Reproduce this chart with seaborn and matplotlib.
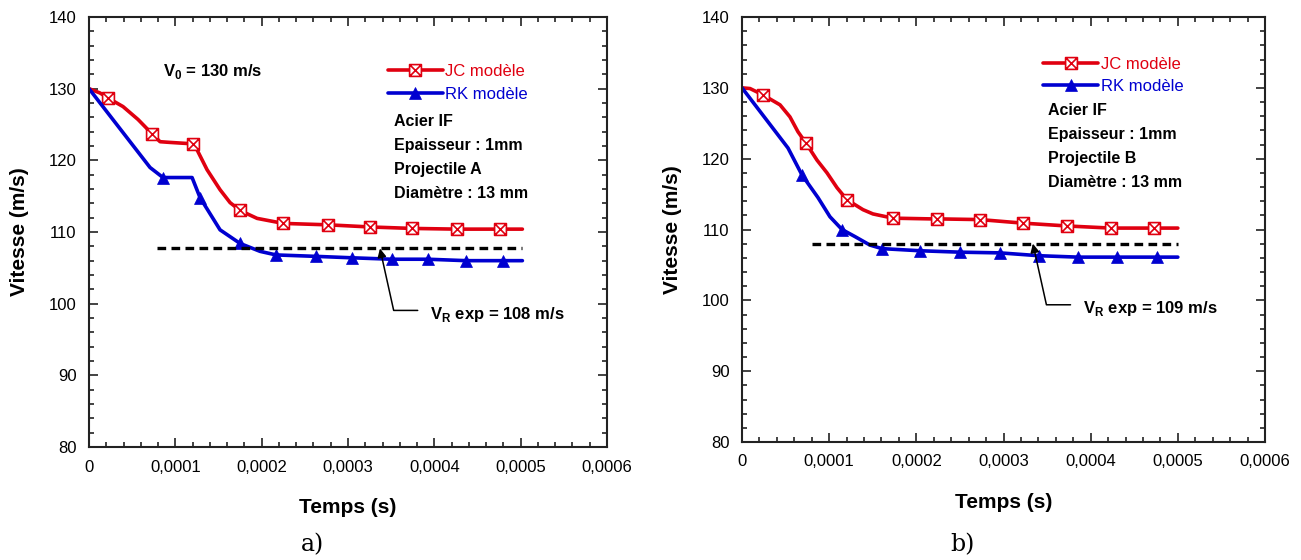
import matplotlib
matplotlib.use('Agg')
import seaborn as sns
from matplotlib import pyplot as plt
from matplotlib.lines import Line2D
from matplotlib.path import Path
from matplotlib.ticker import MultipleLocator, FuncFormatter

# ---- a) projectile A ----
jc_a_t = [0, 0.0000127, 0.000022, 0.0000394, 0.0000568, 0.000073, 0.0000823, 0.0000939,
          0.0001205, 0.000125, 0.0001367, 0.0001518, 0.0001634, 0.000175, 0.0001947,
          0.000225, 0.000277, 0.000326, 0.000374, 0.000426, 0.000476, 0.000502]
jc_a_v = [130, 129.4, 128.7, 127.5, 125.7, 123.7, 122.6, 122.5,
          122.3, 121.5, 118.7, 115.9, 114.1, 113.0, 111.9,
          111.2, 111.0, 110.7, 110.5, 110.4, 110.4, 110.4]
jc_a_marks = [2, 5, 8, 13, 15, 16, 17, 18, 19, 20]

rk_a_t = [0, 0.0000707, 0.0000857, 0.0001194, 0.0001286, 0.0001518, 0.000175, 0.0001981,
          0.0002167, 0.000263, 0.0003047, 0.000351, 0.0003928, 0.0004368, 0.0004797, 0.000502]
rk_a_v = [130, 119.0, 117.6, 117.6, 114.8, 110.3, 108.4, 107.3,
          106.8, 106.6, 106.4, 106.2, 106.2, 106.0, 106.0, 106.0]
rk_a_marks = [2, 4, 6, 8, 9, 10, 11, 12, 13, 14]

exp_a_t = [0.0000788, 0.000502]
exp_a_v = 107.7
exp_a_label = 108

# ---- b) projectile B ----
jc_b_t = [0, 0.0000092, 0.0000241, 0.0000436, 0.000055, 0.0000642, 0.0000734, 0.000086,
          0.0000975, 0.000109, 0.0001204, 0.0001388, 0.0001502, 0.0001732, 0.0002155,
          0.0002236, 0.000273, 0.0003222, 0.0003727, 0.0004232, 0.0004725, 0.0005]
jc_b_v = [130, 129.9, 129.0, 127.6, 125.9, 123.8, 122.2, 119.8,
          118.0, 115.9, 114.2, 112.8, 112.2, 111.6, 111.5,
          111.5, 111.4, 110.9, 110.5, 110.2, 110.2, 110.2]
jc_b_marks = [2, 6, 10, 13, 15, 16, 17, 18, 19, 20]

rk_b_t = [0, 0.0000528, 0.0000688, 0.0000872, 0.0001009, 0.0001147, 0.0001296, 0.0001468,
          0.0001606, 0.0002041, 0.00025, 0.0002959, 0.0003406, 0.0003853, 0.00043,
          0.0004759, 0.0005]
rk_b_v = [130, 121.5, 117.7, 114.5, 111.8, 110.0, 109.0, 107.8,
          107.3, 107.0, 106.8, 106.7, 106.3, 106.1, 106.1,
          106.1, 106.1]
rk_b_marks = [2, 5, 8, 9, 10, 11, 12, 13, 14, 15]

exp_b_t = [0.0000803, 0.0005]
exp_b_v = 108.0
exp_b_label = 109

sns.set_style('ticks')
plt.rcParams['font.family'] = ['Liberation Sans', 'DejaVu Sans']
plt.rcParams['mathtext.fontset'] = 'custom'
plt.rcParams['mathtext.rm'] = 'Liberation Sans'
plt.rcParams['mathtext.bf'] = 'Liberation Sans:bold'
for key in ['text.color', 'axes.labelcolor', 'xtick.labelcolor', 'ytick.labelcolor']:
    plt.rcParams[key] = 'black'

RED = '#e00010'
BLUE = '#0000d0'

# square with a cross inside
box_x = Path([(-1, -1), (1, -1), (1, 1), (-1, 1), (-1, -1), (-1, -1), (1, 1), (-1, 1), (1, -1)],
             [Path.MOVETO, Path.LINETO, Path.LINETO, Path.LINETO, Path.CLOSEPOLY,
              Path.MOVETO, Path.LINETO, Path.MOVETO, Path.LINETO])

jc_style = dict(color=RED, lw=2.6, marker=box_x, ms=8.5, mfc='white', mec=RED, mew=1.2)
rk_style = dict(color=BLUE, lw=2.6, marker='^', ms=8.5, mfc=BLUE, mec=BLUE, mew=0.5)


def comma_fmt(x, pos):
    if abs(x) < 1e-12:
        return '0'
    return ('%.4f' % x).replace('.', ',')


def panel(ax, jc_t, jc_v, jc_marks, rk_t, rk_v, rk_marks, exp_t, exp_v, exp_label,
          info, info_xy, leg_xy, note_xy, tip_t):
    sns.lineplot(x=jc_t, y=jc_v, ax=ax, sort=False, estimator=None, markevery=jc_marks, **jc_style)
    sns.lineplot(x=rk_t, y=rk_v, ax=ax, sort=False, estimator=None, markevery=rk_marks, **rk_style)
    ax.hlines(exp_v, exp_t[0], exp_t[1], color='black', lw=2.4, linestyles=(0, (2.6, 1.6)))

    ax.set_xlim(0, 0.0006)
    ax.set_ylim(80, 140)
    ax.xaxis.set_major_locator(MultipleLocator(0.0001))
    ax.xaxis.set_minor_locator(MultipleLocator(0.00002))
    ax.yaxis.set_major_locator(MultipleLocator(10))
    ax.yaxis.set_minor_locator(MultipleLocator(2))
    ax.xaxis.set_major_formatter(FuncFormatter(comma_fmt))
    ax.tick_params(which='both', direction='in', top=True, right=True, width=1.2,
                   color='#222222', labelsize=12)
    ax.tick_params(which='major', length=6.5)
    ax.tick_params(which='minor', length=3.5)
    ax.tick_params(axis='x', pad=9)
    ax.tick_params(axis='y', pad=9)
    for s in ax.spines.values():
        s.set_linewidth(1.5)
        s.set_color('#222222')

    ax.set_xlabel('Temps (s)', fontweight='bold', fontsize=15, labelpad=17)
    ax.set_ylabel('Vitesse (m/s)', fontweight='bold', fontsize=15, labelpad=14)

    handles = [Line2D([], [], **jc_style), Line2D([], [], **rk_style)]
    ax.legend(handles, ['JC modèle', 'RK modèle'], loc='upper left', bbox_to_anchor=leg_xy,
              frameon=False, handlelength=3.3, handletextpad=0.15, labelspacing=0.45,
              borderpad=0, borderaxespad=0, labelcolor=[RED, BLUE], fontsize=12, numpoints=1)

    ax.text(info_xy[0], info_xy[1], info, transform=ax.transAxes, fontweight='bold',
            fontsize=11.5, va='top', ha='left', linespacing=1.75)

    ax.annotate(r'$\mathbf{V}_{\mathbf{R}}$ exp = %d m/s' % exp_label,
                xy=(tip_t, exp_v), xytext=note_xy, textcoords='data',
                fontweight='bold', fontsize=12, ha='left', va='baseline',
                arrowprops=dict(arrowstyle='-|>', color='black', lw=1.1, mutation_scale=13,
                                shrinkA=6.5, shrinkB=0, relpos=(0, 0.7),
                                connectionstyle='angle,angleA=0,angleB=-77.5,rad=0'))


fig = plt.figure(figsize=(13.01, 5.6), dpi=100)
ax_a = fig.add_axes([89 / 1301, 113 / 560, 518 / 1301, 430 / 560])
ax_b = fig.add_axes([742 / 1301, 118 / 560, 523 / 1301, 425 / 560])

panel(ax_a, jc_a_t, jc_a_v, jc_a_marks, rk_a_t, rk_a_v, rk_a_marks, exp_a_t, exp_a_v, exp_a_label,
      'Acier IF\nEpaisseur : 1mm\nProjectile A\nDiamètre : 13 mm', (0.589, 0.775), (0.577, 0.89),
      (0.000395, 97.9), 0.000337)
panel(ax_b, jc_b_t, jc_b_v, jc_b_marks, rk_b_t, rk_b_v, rk_b_marks, exp_b_t, exp_b_v, exp_b_label,
      'Acier IF\nEpaisseur : 1mm\nProjectile B\nDiamètre : 13 mm', (0.585, 0.798), (0.576, 0.907),
      (0.000391, 98.2), 0.0003337)

ax_a.text(0.143, 0.863, r'$\mathbf{V}_{\mathbf{0}}$ = 130 m/s', transform=ax_a.transAxes,
          fontweight='bold', fontsize=12, ha='left', va='baseline')

fig.text(313 / 1301, 1 - 545 / 560, 'a)', fontsize=17, family='DejaVu Serif', ha='center', va='center')
fig.text(963 / 1301, 1 - 545 / 560, 'b)', fontsize=17, family='DejaVu Serif', ha='center', va='center')

fig.savefig('out.png', dpi=100)
